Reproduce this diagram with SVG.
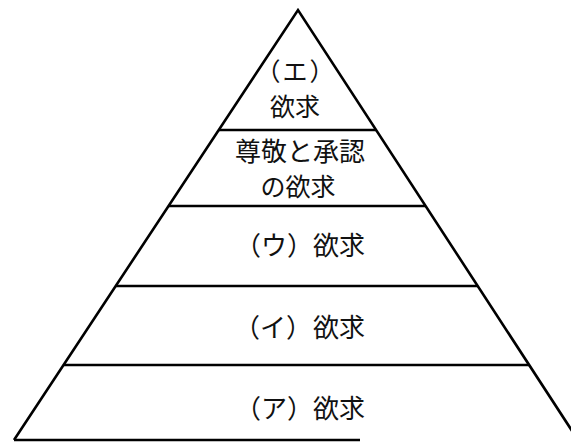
<svg xmlns="http://www.w3.org/2000/svg" width="571" height="442" viewBox="0 0 571 442">
<style>
.ln{stroke:#000;stroke-width:2.6;fill:none;stroke-linecap:butt}
.t{font-family:"Noto Sans CJK JP","Noto Sans CJK SC",sans-serif;font-size:25px;fill:#111;text-anchor:middle}
</style>
<rect width="571" height="442" fill="#fff"/>
<g id="connectors">
<polyline class="ln" points="14,440 298,10 578,440"/>
<line class="ln" x1="14" y1="440" x2="360" y2="440"/>
<line class="ln" x1="219" y1="130" x2="376" y2="130"/>
<line class="ln" x1="169" y1="206" x2="426" y2="206"/>
<line class="ln" x1="116" y1="286" x2="478" y2="286"/>
<line class="ln" x1="64" y1="365" x2="529" y2="365"/>
</g>
<g id="node-e">
<text class="t" x="296" y="81" style="letter-spacing:2px">（エ）</text>
<text class="t" x="295" y="116">欲求</text>
</g>
<g id="node-esteem">
<text class="t" x="300" y="161" style="font-size:26px">尊敬と承認</text>
<text class="t" x="298" y="196">の欲求</text>
</g>
<g id="node-u">
<text class="t" x="274" y="255" style="font-size:26px">（ウ）</text>
<text class="t" x="339" y="255" style="font-size:26px">欲求</text>
</g>
<g id="node-i">
<text class="t" x="273" y="337" style="font-size:26px">（イ）</text>
<text class="t" x="339" y="337" style="font-size:26px">欲求</text>
</g>
<g id="node-a">
<text class="t" x="274" y="418" style="font-size:26px">（ア）</text>
<text class="t" x="339" y="418" style="font-size:26px">欲求</text>
</g>
</svg>
